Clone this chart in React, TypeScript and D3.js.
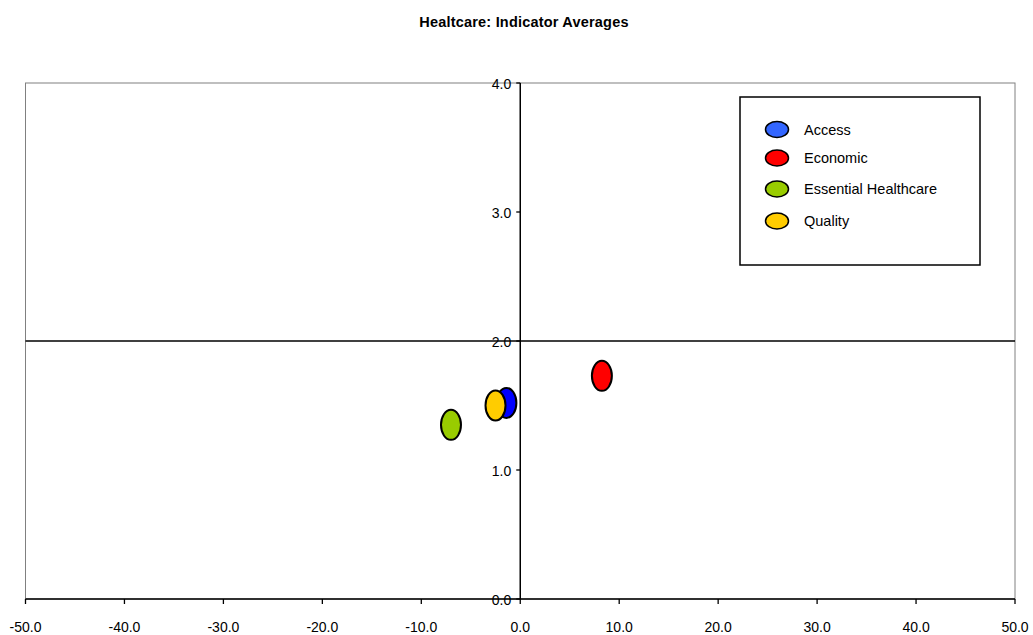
import React from "react";
import * as d3 from "d3";

const seriesNames = ["Access", "Economic", "Essential Healthcare", "Quality"];
const xValues = [-1.4, 8.25, -7.0, -2.5];
const yValues = [1.52, 1.73, 1.35, 1.5];
const pointColors = ["#0000FF", "#FF0000", "#99CC00", "#FFCC00"];
const legendColors = ["#3366FF", "#FF0000", "#99CC00", "#FFCC00"];
const xTicks = [-50, -40, -30, -20, -10, 0, 10, 20, 30, 40, 50];
const yTicks = [0, 1, 2, 3, 4];
const refLineY = 2;
const title = "Healtcare: Indicator Averages";

export default function App() {
  const W = 1033, H = 635;
  const left = 25.5, right = 1015, top = 83, bottom = 599;
  const x = d3.scaleLinear().domain([-50, 50]).range([left, right]);
  const y = d3.scaleLinear().domain([0, 4]).range([bottom, top]);
  const font = "'Liberation Sans', Arial, sans-serif";
  const x0 = x(0);
  return (
    <svg width={W} height={H} style={{ position: "absolute", left: 0, top: 0 }} fontFamily={font}>
      <rect width={W} height={H} fill="#fff" />
      <text x={524} y={27} textAnchor="middle" fontSize={14.5} fontWeight="bold" letterSpacing={0.2}>{title}</text>
      <rect x={left} y={top} width={right - left} height={bottom - top} fill="none" stroke="#808080" strokeWidth={1} />
      {/* reference line */}
      <line x1={left} x2={right} y1={y(refLineY)} y2={y(refLineY)} stroke="#000" strokeWidth={1.3} />
      {/* y axis */}
      <line x1={x0} x2={x0} y1={top} y2={bottom} stroke="#000" strokeWidth={1.5} />
      {yTicks.map((t) => (
        <g key={"y" + t}>
          <line x1={x0 - 4} x2={x0} y1={y(t)} y2={y(t)} stroke="#000" strokeWidth={1.3} />
          <text x={x0 - 9} y={y(t) + 1.5} dy="0.35em" textAnchor="end" fontSize={14}>{t.toFixed(1)}</text>
        </g>
      ))}
      {/* x axis */}
      <line x1={left} x2={right} y1={bottom} y2={bottom} stroke="#000" strokeWidth={1.5} />
      {xTicks.map((t) => (
        <g key={"x" + t}>
          <line x1={x(t)} x2={x(t)} y1={bottom} y2={bottom + 5} stroke="#000" strokeWidth={1.3} />
          <text x={x(t)} y={bottom + 28} dy="0.35em" textAnchor="middle" fontSize={14}>{t.toFixed(1)}</text>
        </g>
      ))}
      {/* points */}
      {seriesNames.map((s, i) => (
        <ellipse key={s} cx={x(xValues[i])} cy={y(yValues[i])} rx={10} ry={15} fill={pointColors[i]} stroke="#000" strokeWidth={2} />
      ))}
      {/* legend */}
      <rect x={740} y={97} width={240} height={168} fill="#fff" stroke="#000" strokeWidth={1.5} />
      {seriesNames.map((s, i) => {
        const ly = [129.5, 158, 189, 221][i];
        return (
          <g key={"l" + s}>
            <ellipse cx={777} cy={ly} rx={11.5} ry={8} fill={legendColors[i]} stroke="#000" strokeWidth={1.5} />
            <text x={804} y={ly} dy="0.35em" fontSize={14.5}>{s}</text>
          </g>
        );
      })}
    </svg>
  );
}
